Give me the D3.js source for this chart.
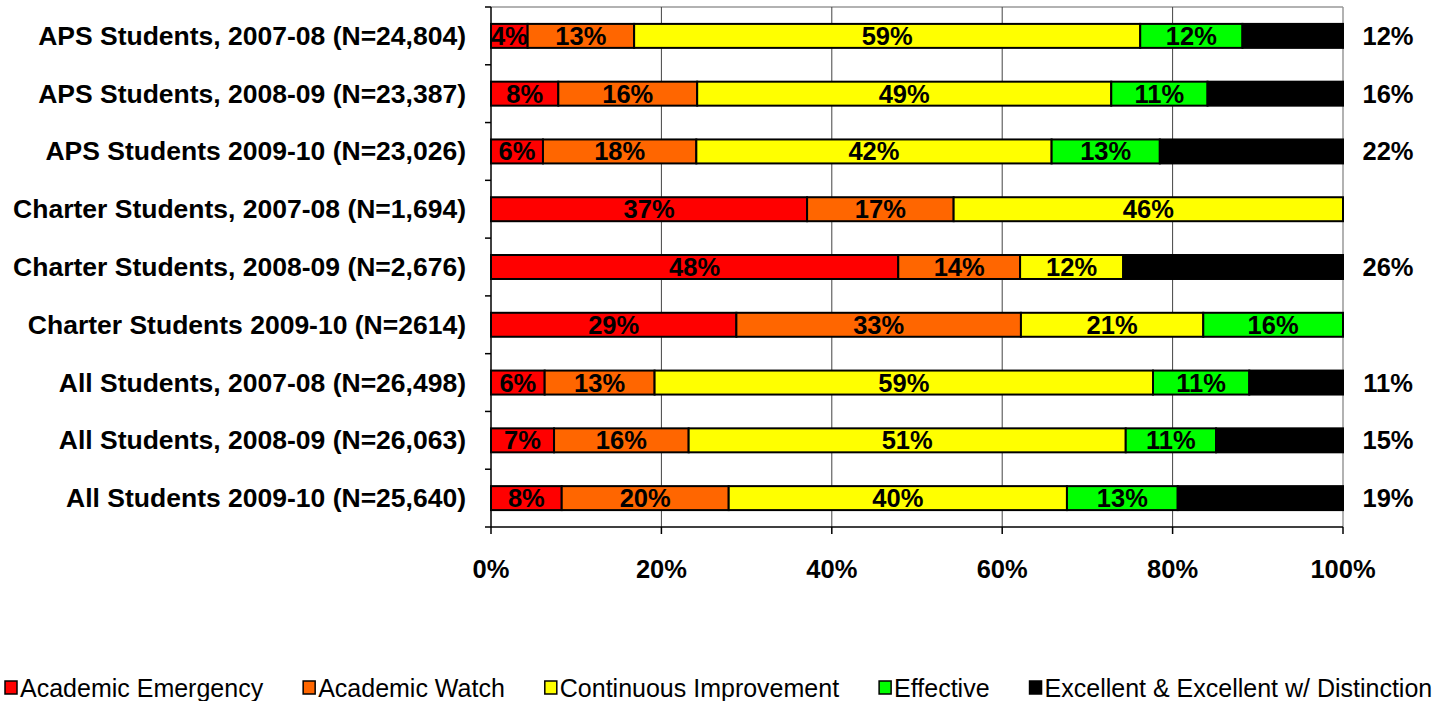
<!DOCTYPE html>
<html>
<head>
<style>
	body { margin: 0; background: white; }
	text { font-family: "Liberation Sans", Arial, sans-serif; }
	.cat { font-size: 26.5px; font-weight: bold; }
	.tick { font-size: 25.5px; font-weight: bold; }
	.val { font-size: 25.5px; font-weight: bold; }
	.leg { font-size: 25px; }
</style>
</head>
<body>
<svg width="1433" height="701"></svg>

<script src="https://cdn.jsdelivr.net/npm/d3@7"></script>
<script>
const width = 1433;
const height = 701;

const categories = [
	"APS Students, 2007-08 (N=24,804)",
	"APS Students, 2008-09 (N=23,387)",
	"APS Students 2009-10 (N=23,026)",
	"Charter Students, 2007-08 (N=1,694)",
	"Charter Students, 2008-09 (N=2,676)",
	"Charter Students 2009-10 (N=2614)",
	"All Students, 2007-08 (N=26,498)",
	"All Students, 2008-09 (N=26,063)",
	"All Students 2009-10 (N=25,640)"
];

const seriesNames = ["Academic Emergency", "Academic Watch", "Continuous Improvement", "Effective", "Excellent & Excellent w/ Distinction"];
const seriesColors = ["#ff0000", "#ff6600", "#ffff00", "#00ff00", "#000000"];

const emergency  = [4.3, 7.9, 6.1, 37.1, 47.8, 28.8, 6.3, 7.4, 8.3];
const watch      = [12.5, 16.3, 18.0, 17.2, 14.3, 33.4, 12.9, 15.8, 19.6];
const continuous = [59.4, 48.6, 41.7, 45.7, 12.1, 21.4, 58.5, 51.3, 39.7];
const effective  = [12.0, 11.3, 12.7, 0, 0, 16.4, 11.3, 10.6, 13.0];
const excellent  = [11.8, 15.9, 21.5, 0, 25.8, 0, 11.0, 14.9, 19.4];

const tickLabels = ["0%", "20%", "40%", "60%", "80%", "100%"];

const series = [emergency, watch, continuous, effective, excellent];

const svg = d3.select("svg");

const x = d3.scaleLinear().domain([0, 100]).range([491, 1343]);
const y = d3.scaleBand().domain(categories).range([7, 527])
	.paddingInner(0.585).paddingOuter(0.2925);

// rows for stacking
const rows = categories.map(function(c, i) {
	const r = { cat: c };
	seriesNames.forEach(function(s, j) { r[s] = series[j][i]; });
	return r;
});
const stacked = d3.stack().keys(seriesNames)(rows);

// plot border (top / right)
svg.append("line").attr("x1", x(0)).attr("x2", x(100)).attr("y1", 7).attr("y2", 7)
	.attr("stroke", "#999").attr("stroke-width", 1.5);
svg.append("line").attr("x1", x(100)).attr("x2", x(100)).attr("y1", 7).attr("y2", 527)
	.attr("stroke", "#999").attr("stroke-width", 1.5);

// gridlines
svg.selectAll(".grid")
	.data([20, 40, 60, 80])
	.enter()
	.append("line")
		.attr("class", "grid")
		.attr("x1", function(d) { return x(d); })
		.attr("x2", function(d) { return x(d); })
		.attr("y1", 7).attr("y2", 527)
		.attr("stroke", "#444").attr("stroke-width", 1);

// bars
const groups = svg.selectAll(".series")
	.data(stacked)
	.enter()
	.append("g")
		.attr("class", "series")
		.attr("fill", function(d, i) { return seriesColors[i]; });

groups.selectAll("rect")
	.data(function(d) { return d.filter(function(p) { return p[1] - p[0] > 0; }); })
	.enter()
	.append("rect")
		.attr("x", function(d) { return x(d[0]); })
		.attr("y", function(d) { return y(d.data.cat); })
		.attr("width", function(d) { return x(d[1]) - x(d[0]); })
		.attr("height", y.bandwidth())
		.attr("stroke", "black")
		.attr("stroke-width", 2);

// value labels (the black series sits outside, right of the bar)
stacked.forEach(function(s, i) {
	s.forEach(function(d) {
		const v = d[1] - d[0];
		if (v <= 0) return;
		const outside = i === 4;
		svg.append("text")
			.attr("class", "val")
			.attr("x", outside ? x(100) + 45 : (x(d[0]) + x(d[1])) / 2)
			.attr("y", y(d.data.cat) + y.bandwidth() / 2 + 9)
			.attr("text-anchor", "middle")
			.attr("fill", "black")
			.text(Math.round(v) + "%");
	});
});

// left axis
svg.append("line").attr("x1", x(0)).attr("x2", x(0)).attr("y1", 7).attr("y2", 527)
	.attr("stroke", "black").attr("stroke-width", 1.5);
const bounds = d3.range(categories.length + 1).map(function(i) { return 7 + i * y.step(); });
svg.selectAll(".ytick")
	.data(bounds)
	.enter()
	.append("line")
		.attr("x1", x(0) - 6).attr("x2", x(0))
		.attr("y1", function(d) { return d; }).attr("y2", function(d) { return d; })
		.attr("stroke", "black").attr("stroke-width", 1.5);

svg.selectAll(".cat")
	.data(categories)
	.enter()
	.append("text")
		.attr("class", "cat")
		.attr("x", 466)
		.attr("y", function(d) { return y(d) + y.bandwidth() / 2 + 9; })
		.attr("text-anchor", "end")
		.text(function(d) { return d; });

// bottom axis
svg.append("line").attr("x1", x(0)).attr("x2", x(100)).attr("y1", 527).attr("y2", 527)
	.attr("stroke", "black").attr("stroke-width", 1.5);
svg.selectAll(".xtick")
	.data(tickLabels)
	.enter()
	.append("line")
		.attr("x1", function(d, i) { return x(i * 20); })
		.attr("x2", function(d, i) { return x(i * 20); })
		.attr("y1", 527).attr("y2", 534)
		.attr("stroke", "black").attr("stroke-width", 1.5);
svg.selectAll(".tick")
	.data(tickLabels)
	.enter()
	.append("text")
		.attr("class", "tick")
		.attr("x", function(d, i) { return x(i * 20); })
		.attr("y", 578)
		.attr("text-anchor", "middle")
		.text(function(d) { return d; });

// legend
let lx = 5;
seriesNames.forEach(function(name, i) {
	const g = svg.append("g").attr("transform", "translate(" + lx + ",688)");
	g.append("rect").attr("x", 0).attr("y", -7).attr("width", 12).attr("height", 13)
		.attr("fill", seriesColors[i]).attr("stroke", "black").attr("stroke-width", 1.5);
	const t = g.append("text").attr("class", "leg").attr("x", 15).attr("y", 9).text(name);
	lx += 15 + t.node().getComputedTextLength() + 40;
});
</script>
</body>
</html>
